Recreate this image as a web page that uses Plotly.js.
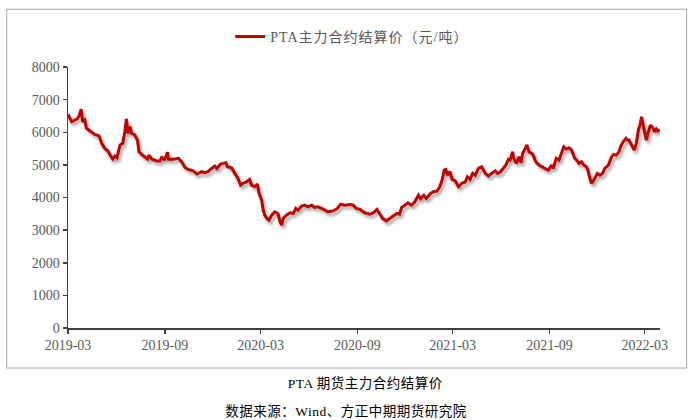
<!DOCTYPE html>
<html>
<head>
<meta charset="utf-8">
<script src="https://cdn.plot.ly/plotly-3.0.1.min.js"></script>
<style>
html,body{margin:0;padding:0;background:#fff;}
#chart{width:695px;height:420px;}
#chart .scatterlayer .js-line{filter:url(#lineShadow);}
#chart .legendtext{letter-spacing:1px;}
#chart .annotation-text{letter-spacing:0.5px;}
</style>
</head>
<body>
<svg width="0" height="0" style="position:absolute">
  <defs>
    <filter id="lineShadow" x="-5%" y="-20%" width="110%" height="150%">
      <feGaussianBlur in="SourceAlpha" stdDeviation="1.6"/>
      <feOffset dx="1.5" dy="3" result="ob"/>
      <feComponentTransfer><feFuncA type="linear" slope="0.35"/></feComponentTransfer>
      <feMerge><feMergeNode/><feMergeNode in="SourceGraphic"/></feMerge>
    </filter>
  </defs>
</svg>
<div id="chart"></div>
<script>
const seriesName = 'PTA主力合约结算价（元/吨）';
const chartTitle = 'PTA 期货主力合约结算价';
const sourceText = '数据来源：Wind、方正中期期货研究院';

const dates = [
'2019-03-01','2019-03-08','2019-03-18','2019-03-22','2019-03-26','2019-03-29','2019-04-02','2019-04-05','2019-04-12','2019-04-21',
'2019-04-29','2019-05-04','2019-05-10','2019-05-16','2019-05-20','2019-05-25','2019-05-29','2019-06-02','2019-06-08','2019-06-13',
'2019-06-17','2019-06-20','2019-06-23','2019-06-27','2019-06-30','2019-07-06','2019-07-11','2019-07-14','2019-07-19','2019-07-25',
'2019-07-30','2019-08-02','2019-08-07','2019-08-17','2019-08-23','2019-08-26','2019-08-31','2019-09-06','2019-09-08','2019-09-17',
'2019-09-27','2019-10-03','2019-10-09','2019-10-15','2019-10-25','2019-11-01','2019-11-10','2019-11-16','2019-11-22','2019-11-29',
'2019-12-05','2019-12-09','2019-12-16','2019-12-21','2019-12-26','2019-12-29','2020-01-06','2020-01-12','2020-01-18','2020-01-23',
'2020-01-27','2020-02-03','2020-02-09','2020-02-13','2020-02-19','2020-02-24','2020-02-27','2020-03-03','2020-03-06','2020-03-09',
'2020-03-13','2020-03-17','2020-03-22','2020-03-28','2020-04-03','2020-04-07','2020-04-10','2020-04-13','2020-04-19','2020-04-26',
'2020-05-02','2020-05-07','2020-05-11','2020-05-18','2020-05-24','2020-05-30','2020-06-06','2020-06-12','2020-06-18','2020-06-28',
'2020-07-07','2020-07-17','2020-07-25','2020-07-31','2020-08-08','2020-08-18','2020-08-24','2020-08-30','2020-09-06','2020-09-15',
'2020-09-25','2020-10-02','2020-10-08','2020-10-13','2020-10-19','2020-10-26','2020-11-02','2020-11-08','2020-11-15','2020-11-20',
'2020-11-24','2020-11-30','2020-12-06','2020-12-13','2020-12-19','2020-12-26','2020-12-30','2021-01-05','2021-01-10','2021-01-17',
'2021-01-23','2021-01-30','2021-02-04','2021-02-09','2021-02-13','2021-02-16','2021-02-19','2021-02-24','2021-02-28','2021-03-06',
'2021-03-12','2021-03-18','2021-03-25','2021-03-29','2021-04-03','2021-04-08','2021-04-13','2021-04-19','2021-04-25','2021-05-02',
'2021-05-08','2021-05-14','2021-05-21','2021-05-25','2021-05-31','2021-06-05','2021-06-10','2021-06-15','2021-06-18','2021-06-23',
'2021-06-25','2021-06-30','2021-07-05','2021-07-09','2021-07-12','2021-07-17','2021-07-20','2021-07-24','2021-07-31','2021-08-06',
'2021-08-12','2021-08-20','2021-08-23','2021-08-30','2021-09-05','2021-09-08','2021-09-14','2021-09-19','2021-09-24','2021-09-28',
'2021-10-03','2021-10-08','2021-10-13','2021-10-16','2021-10-19','2021-10-23','2021-10-27','2021-11-01','2021-11-05','2021-11-10',
'2021-11-13','2021-11-16','2021-11-20','2021-11-26','2021-12-01','2021-12-06','2021-12-11','2021-12-15','2021-12-22','2021-12-28',
'2022-01-01','2022-01-06','2022-01-11','2022-01-14','2022-01-19','2022-01-24','2022-01-27','2022-01-30','2022-02-04','2022-02-09',
'2022-02-13','2022-02-17','2022-02-20','2022-02-23','2022-02-26','2022-03-01','2022-03-04','2022-03-07','2022-03-12','2022-03-17',
'2022-03-20','2022-03-23','2022-03-26','2022-03-30'
];

const prices = [
6550,6320,6400,6500,6710,6320,6375,6120,6040,5935,
5890,5660,5505,5425,5300,5180,5270,5220,5610,5660,
6015,6405,5970,6170,5970,5915,5760,5400,5320,5250,
5180,5300,5180,5115,5115,5250,5145,5385,5170,5170,
5200,5095,4925,4860,4820,4720,4790,4760,4790,4890,
4965,4890,5025,5045,5065,4940,4910,4740,4585,4380,
4430,4480,4555,4380,4330,4410,4125,3920,3610,3460,
3360,3305,3460,3560,3510,3255,3150,3360,3460,3530,
3510,3665,3610,3735,3765,3715,3765,3695,3715,3645,
3560,3590,3665,3795,3765,3785,3765,3665,3635,3530,
3490,3540,3635,3510,3360,3285,3360,3430,3510,3490,
3695,3765,3835,3765,3870,4070,3970,4070,3970,4105,
4175,4195,4310,4535,4840,4860,4685,4790,4555,4510,
4330,4430,4480,4635,4555,4740,4685,4890,4940,4740,
4655,4740,4820,4740,4790,4890,4995,5170,5145,5400,
5200,5045,5250,5065,5350,5505,5610,5400,5330,5095,
4995,4925,4890,4840,4995,4890,5200,5145,5350,5555,
5485,5525,5455,5300,5200,5145,5045,5095,4995,4940,
4840,4635,4430,4585,4740,4685,4740,4890,4995,5250,
5320,5300,5400,5555,5710,5815,5760,5760,5610,5455,
5660,6070,6220,6475,6220,6015,5760,5970,6220,6120,
6015,6100,6040,6070
];

const xTickVals = ['2019-03-01','2019-09-01','2020-03-01','2020-09-01','2021-03-01','2021-09-01','2022-03-01'];
const xTickText = ['2019-03','2019-09','2020-03','2020-09','2021-03','2021-09','2022-03'];
const yTickVals = [0,1000,2000,3000,4000,5000,6000,7000,8000];

const FONT = '"Liberation Serif","Times New Roman","Noto Sans CJK SC",serif';
const GRAY = '#595959';

const trace = {
  x: dates, y: prices, type: 'scatter', mode: 'lines', name: seriesName,
  line: {color: '#C00000', width: 3}, showlegend: true
};

const layout = {
  width: 695, height: 420,
  margin: {l: 68, r: 35, t: 67, b: 92, pad: 0},
  paper_bgcolor: '#ffffff', plot_bgcolor: '#ffffff',
  font: {family: FONT, size: 14, color: GRAY},
  showlegend: true,
  legend: {x: 0.274, xanchor: 'left', y: 1.115, yanchor: 'middle', orientation: 'h',
           font: {family: FONT, size: 14, color: GRAY}, bgcolor: 'rgba(0,0,0,0)', itemwidth: 30},
  xaxis: {type: 'date', range: ['2019-03-01', '2022-03-30'], tickmode: 'array',
          tickvals: xTickVals, ticktext: xTickText, showgrid: false, zeroline: false,
          showline: true, linecolor: '#404040', linewidth: 1.5, ticks: 'outside', ticklen: 4,
          tickcolor: '#404040', tickwidth: 1.5, tickfont: {family: FONT, size: 14, color: GRAY}},
  yaxis: {range: [0, 8000], tickmode: 'array', tickvals: yTickVals, showgrid: false, zeroline: false,
          showline: true, linecolor: '#404040', linewidth: 1.5, ticks: 'outside', ticklen: 4,
          tickcolor: '#404040', tickwidth: 1.5, tickfont: {family: FONT, size: 14, color: GRAY}},
  shapes: [{type: 'rect', xref: 'paper', yref: 'paper', x0: -0.1035, x1: 1.045, y0: -0.1534, y1: 1.2213,
            line: {color: '#a6a6a6', width: 1}, fillcolor: 'rgba(0,0,0,0)', layer: 'below'}],
  annotations: [
    {text: chartTitle, xref: 'paper', yref: 'paper', x: 0.5025, y: -0.212, xanchor: 'center', yanchor: 'middle',
     showarrow: false, font: {family: FONT, size: 13.5, color: '#000000'}},
    {text: sourceText, xref: 'paper', yref: 'paper', x: 0.4696, y: -0.318, xanchor: 'center', yanchor: 'middle',
     showarrow: false, font: {family: FONT, size: 13.5, color: '#000000'}}
  ]
};

Plotly.newPlot('chart', [trace], layout, {displayModeBar: false, staticPlot: true});
</script>
</body>
</html>
